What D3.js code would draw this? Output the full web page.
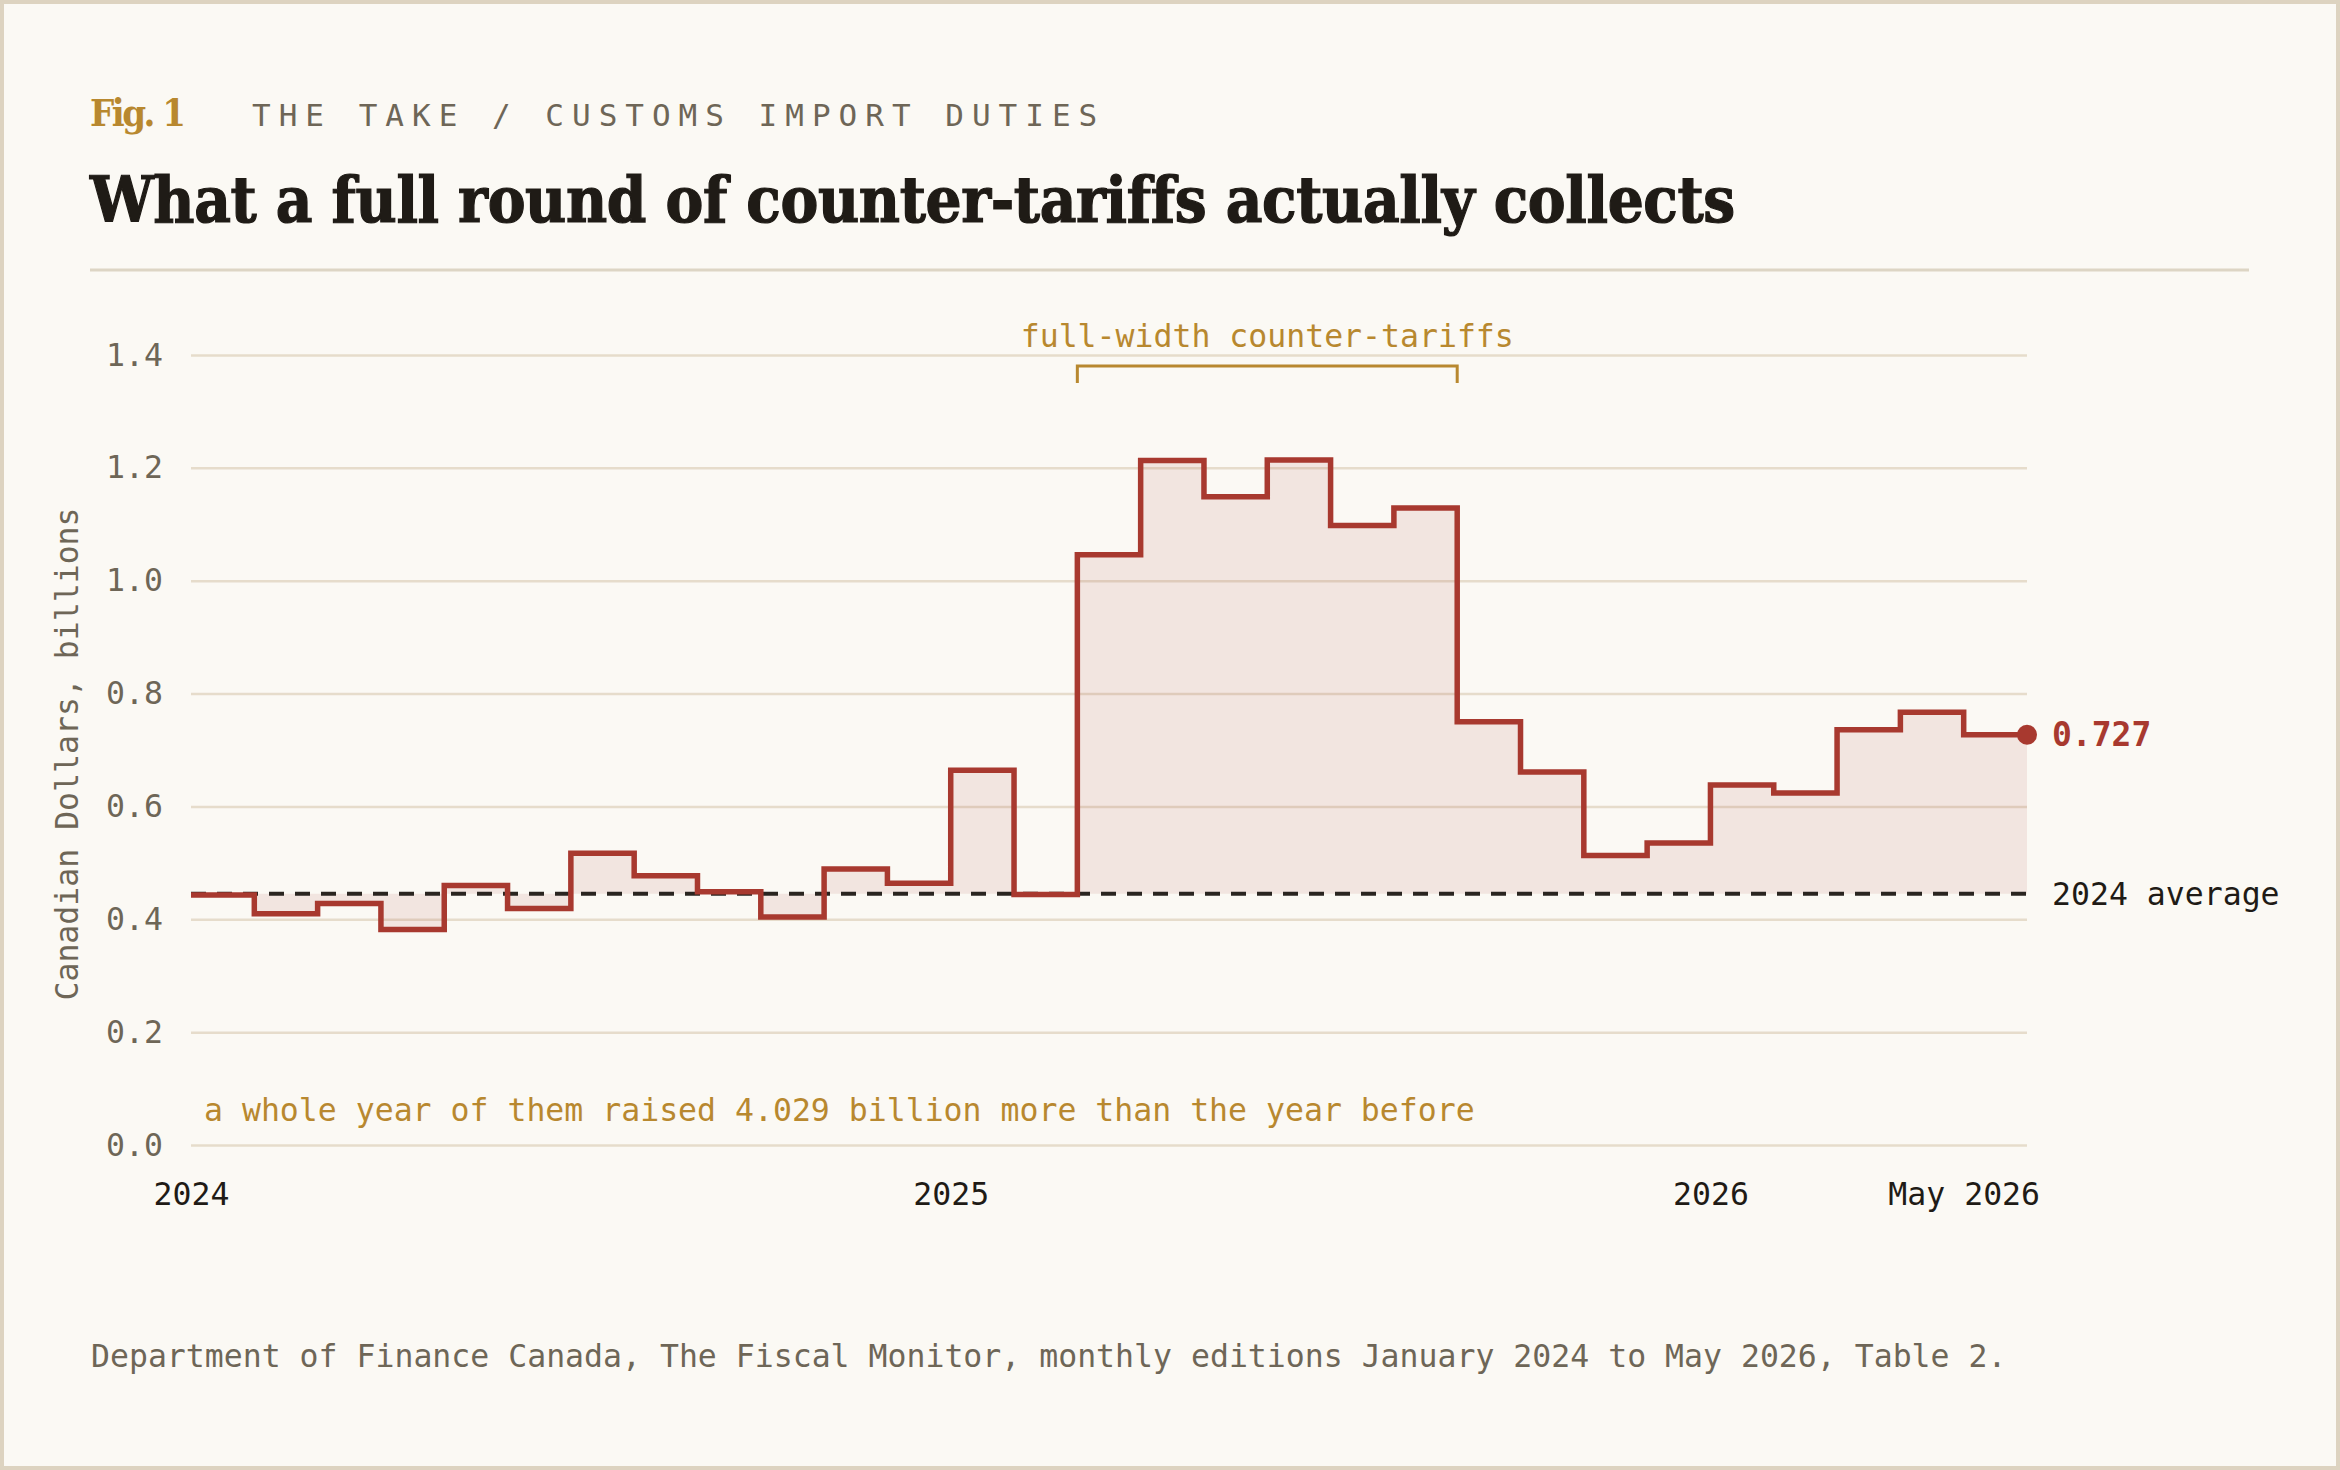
<!DOCTYPE html>
<html>
<head>
<meta charset="utf-8">
<script src="https://cdn.jsdelivr.net/npm/d3@7"></script>
<style>
  html, body { margin: 0; padding: 0; background: #fbf9f4; }
  svg { display: block; }
</style>
</head>
<body>
<div id="chart"></div>
<script>
// monthly customs import duties, C$ billions, Jan 2024 .. May 2026
var months = ["2024-01","2024-02","2024-03","2024-04","2024-05","2024-06","2024-07","2024-08","2024-09","2024-10","2024-11","2024-12",
              "2025-01","2025-02","2025-03","2025-04","2025-05","2025-06","2025-07","2025-08","2025-09","2025-10","2025-11","2025-12",
              "2026-01","2026-02","2026-03","2026-04","2026-05"];
var values = [0.443, 0.410, 0.428, 0.382, 0.460, 0.419, 0.517, 0.477, 0.449, 0.404, 0.489, 0.464,
              0.664, 0.444, 1.046, 1.213, 1.149, 1.214, 1.098, 1.129, 0.750, 0.661, 0.513, 0.535,
              0.638, 0.624, 0.736, 0.767, 0.727];
var yTicks = [0, 0.2, 0.4, 0.6, 0.8, 1.0, 1.2, 1.4];
var xTickIdx = [0, 12, 24, 28];
var xTickLabels = ["2024", "2025", "2026", "May 2026"];
var bracketRange = [14, 20];   // Mar 2025 .. end of Aug 2025

var W = 2340, H = 1470;
var plotL = 191, plotR = 2027, plotT = 355, plotB = 1145;
var mono = "'DejaVu Sans Mono', 'Liberation Mono', monospace";
var serif = "'DejaVu Serif Condensed', 'DejaVu Serif', serif";
var red = "#a8392f", gold = "#b8882f", gray = "#6e6657", ink = "#1f1b16";

var svg = d3.select("#chart").append("svg")
            .attr("width", W)
            .attr("height", H);

svg.append("rect")
   .attr("x", 2).attr("y", 2)
   .attr("width", W - 4).attr("height", H - 4)
   .attr("fill", "#fbf9f4")
   .attr("stroke", "#ddd3c0")
   .attr("stroke-width", 4);

// header
var fig = svg.append("text")
   .text("Fig. 1")
   .attr("x", 90).attr("y", 126)
   .attr("font-family", serif)
   .attr("font-weight", 700)
   .attr("font-size", 38)
   .attr("fill", gold);
var fw = fig.node().getComputedTextLength();
fig.attr("letter-spacing", Math.max(-3, (96 - fw) / 5));

svg.append("text")
   .text("THE TAKE / CUSTOMS IMPORT DUTIES")
   .attr("x", 252).attr("y", 126)
   .attr("font-family", mono)
   .attr("font-size", 31)
   .attr("letter-spacing", 8)
   .attr("fill", gray);

var title = svg.append("text")
   .text("What a full round of counter-tariffs actually collects")
   .attr("x", 90).attr("y", 222)
   .attr("font-family", serif)
   .attr("font-weight", 700)
   .attr("font-size", 63)
   .attr("fill", ink)
   .attr("stroke", ink)
   .attr("stroke-width", 1.2);
var tw = title.node().getComputedTextLength();
var ls = (1643 - tw) / 53;
if (ls < -2.5) {
    title.attr("font-size", 63 * 1643 / (tw - 2.5 * 53));
    ls = -2.5;
}
title.attr("letter-spacing", ls);

svg.append("line")
   .attr("x1", 90).attr("x2", 2249)
   .attr("y1", 270).attr("y2", 270)
   .attr("stroke", "#ddd5c4")
   .attr("stroke-width", 3);

// scales
var x = d3.scaleLinear().domain([0, values.length]).range([plotL, plotR]);
var y = d3.scaleLinear().domain([0, 1.4]).range([plotB, plotT]);

var avg = d3.mean(values.slice(0, 12));

// grid + y axis
var yAxis = svg.append("g")
   .attr("transform", "translate(" + plotL + ",0)")
   .call(d3.axisLeft(y).tickValues(yTicks).tickFormat(d3.format(".1f"))
           .tickSize(-(plotR - plotL)).tickPadding(28));
yAxis.select(".domain").remove();
yAxis.selectAll("line").attr("stroke", "#e6dccb").attr("stroke-width", 2.5);
yAxis.selectAll("text")
     .attr("font-family", mono)
     .attr("font-size", 31.5)
     .attr("fill", gray);

svg.append("text")
   .text("Canadian Dollars, billions")
   .attr("transform", "translate(78," + ((plotT + plotB) / 2 + 4) + ") rotate(-90)")
   .attr("text-anchor", "middle")
   .attr("font-family", mono)
   .attr("font-size", 31.5)
   .attr("fill", gray);

// x axis
var xAxis = svg.append("g")
   .attr("transform", "translate(0," + plotB + ")")
   .call(d3.axisBottom(x).tickValues(xTickIdx)
           .tickFormat(function(d, i) { return xTickLabels[i]; })
           .tickSize(0).tickPadding(38));
xAxis.select(".domain").remove();
xAxis.selectAll("text")
     .attr("font-family", mono)
     .attr("font-size", 31.5)
     .attr("fill", ink);

// step series: each month holds from its start to the next month
var pts = values.map(function(v, i) { return [i, v]; });
pts.push([values.length, values[values.length - 1]]);

var area = d3.area()
   .curve(d3.curveStepAfter)
   .x(function(d) { return x(d[0]); })
   .y0(y(avg))
   .y1(function(d) { return y(d[1]); });

var line = d3.line()
   .curve(d3.curveStepAfter)
   .x(function(d) { return x(d[0]); })
   .y(function(d) { return y(d[1]); });

svg.append("path")
   .datum(pts)
   .attr("d", area)
   .attr("fill", red)
   .attr("fill-opacity", 0.1);

svg.append("line")
   .attr("x1", plotL).attr("x2", plotR)
   .attr("y1", y(avg)).attr("y2", y(avg))
   .attr("stroke", "#2a2520")
   .attr("stroke-width", 4)
   .attr("stroke-dasharray", "15,11");

svg.append("path")
   .datum(pts)
   .attr("d", line)
   .attr("fill", "none")
   .attr("stroke", red)
   .attr("stroke-width", 5.5);

var last = pts[pts.length - 1];
svg.append("circle")
   .attr("cx", x(last[0])).attr("cy", y(last[1]))
   .attr("r", 10)
   .attr("fill", red);

svg.append("text")
   .text(d3.format(".3f")(last[1]))
   .attr("x", x(last[0]) + 25).attr("y", y(last[1]))
   .attr("dy", "0.35em")
   .attr("font-family", mono)
   .attr("font-weight", 700)
   .attr("font-size", 33)
   .attr("fill", red);

svg.append("text")
   .text("2024 average")
   .attr("x", x(last[0]) + 25).attr("y", y(avg))
   .attr("dy", "0.35em")
   .attr("font-family", mono)
   .attr("font-size", 31.5)
   .attr("fill", ink);

// bracket over the full-width months
var bx0 = x(bracketRange[0]), bx1 = x(bracketRange[1]);
svg.append("path")
   .attr("d", "M" + bx0 + ",383V366H" + bx1 + "V383")
   .attr("fill", "none")
   .attr("stroke", gold)
   .attr("stroke-width", 3);

svg.append("text")
   .text("full-width counter-tariffs")
   .attr("x", (bx0 + bx1) / 2).attr("y", 347)
   .attr("text-anchor", "middle")
   .attr("font-family", mono)
   .attr("font-size", 31.5)
   .attr("fill", gold);

svg.append("text")
   .text("a whole year of them raised 4.029 billion more than the year before")
   .attr("x", plotL + 13).attr("y", 1121)
   .attr("font-family", mono)
   .attr("font-size", 31.5)
   .attr("fill", gold);

// source
svg.append("text")
   .text("Department of Finance Canada, The Fiscal Monitor, monthly editions January 2024 to May 2026, Table 2.")
   .attr("x", 91).attr("y", 1367)
   .attr("font-family", mono)
   .attr("font-size", 31.5)
   .attr("fill", gray);
</script>
</body>
</html>
